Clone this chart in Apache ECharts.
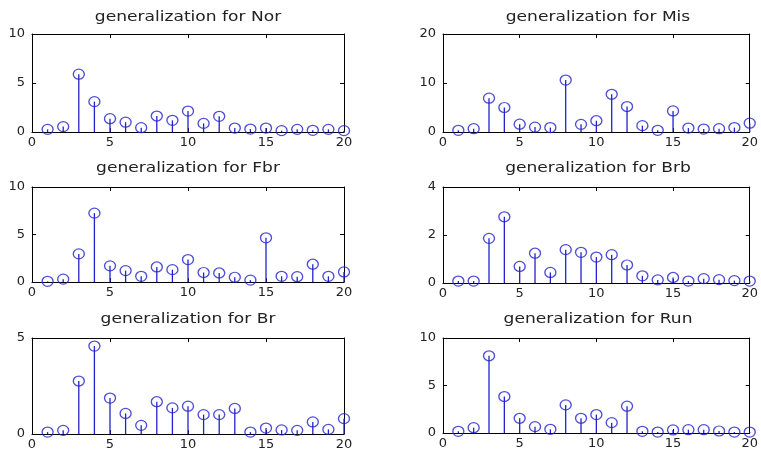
<!DOCTYPE html>
<html><head><meta charset="utf-8">
<script src="https://cdn.jsdelivr.net/npm/echarts@6/dist/echarts.min.js"></script>
<style>html,body{margin:0;padding:0;background:#fff}#c{width:761px;height:453px}</style>
</head><body><div id="c"></div>
<script>
const xValues = [1,2,3,4,5,6,7,8,9,10,11,12,13,14,15,16,17,18,19,20];
const norValues = [0.27,0.55,5.9,3.1,1.36,1.0,0.44,1.63,1.19,2.14,0.88,1.6,0.4,0.3,0.4,0.14,0.27,0.17,0.27,0.14];
const misValues = [0.34,0.68,6.9,5.0,1.6,1.0,0.9,10.6,1.56,2.3,7.7,5.2,1.3,0.34,4.3,0.8,0.6,0.68,0.9,1.8];
const fbrValues = [0.07,0.3,2.96,7.25,1.7,1.2,0.6,1.58,1.3,2.36,1.0,0.95,0.5,0.2,4.65,0.6,0.56,1.87,0.6,1.06];
const brbValues = [0.08,0.08,1.86,2.76,0.69,1.24,0.44,1.39,1.28,1.08,1.18,0.75,0.3,0.13,0.23,0.08,0.18,0.14,0.1,0.08];
const brValues = [0.1,0.19,2.76,4.58,1.87,1.07,0.45,1.68,1.36,1.45,1.01,1.01,1.33,0.1,0.31,0.21,0.19,0.63,0.24,0.8];
const runValues = [0.18,0.56,8.13,3.84,1.55,0.67,0.39,2.96,1.55,1.94,1.09,2.82,0.18,0.1,0.32,0.35,0.35,0.21,0.1,0.1];
const panelTitles = ['generalization for Nor','generalization for Mis','generalization for Fbr','generalization for Brb','generalization for Br','generalization for Run'];
const panelValues = [norValues, misValues, fbrValues, brbValues, brValues, runValues];
const yMaxes = [10, 20, 10, 4, 5, 10];
const yIntervals = [5, 10, 5, 2, 5, 5];
const xTicks = [0, 20, 5];

const FONT = 'DejaVu Sans';
const BLUE = '#2222cc';
const grids = [
  {left:32, top:34, width:312, height:98},
  {left:443, top:34, width:310, height:98},
  {left:32, top:187, width:312, height:95},
  {left:443, top:187, width:310, height:96},
  {left:32, top:338, width:312, height:96},
  {left:443, top:338, width:310, height:95}
];
const titleCenters = [17, 17, 168, 168, 319, 319];

const xAxis = [], yAxis = [], series = [], graphic = [];
grids.forEach((g, i) => {
  const line = {show:true, onZero:false, lineStyle:{color:'#000', width:1}};
  const tick = {show:true, inside:true, length:4, lineStyle:{color:'#000'}};
  const lbl = {show:true, color:'#222', fontFamily:FONT, fontSize:13};
  xAxis.push({type:'value', gridIndex:i, position:'bottom', min:xTicks[0], max:xTicks[1], interval:xTicks[2],
    axisLine:line, axisTick:tick, splitLine:{show:false}, axisLabel:Object.assign({margin:4}, lbl)});
  xAxis.push({type:'value', gridIndex:i, position:'top', min:xTicks[0], max:xTicks[1], interval:xTicks[2],
    axisLine:line, axisTick:tick, splitLine:{show:false}, axisLabel:{show:false}});
  yAxis.push({type:'value', gridIndex:i, position:'left', min:0, max:yMaxes[i], interval:yIntervals[i],
    axisLine:line, axisTick:tick, splitLine:{show:false}, axisLabel:Object.assign({margin:7}, lbl)});
  yAxis.push({type:'value', gridIndex:i, position:'right', min:0, max:yMaxes[i], interval:yIntervals[i],
    axisLine:line, axisTick:tick, splitLine:{show:false}, axisLabel:{show:false}});
  const data = xValues.map((x, k) => [x, panelValues[i][k]]);
  series.push({type:'custom', xAxisIndex:2*i, yAxisIndex:2*i, data:data, silent:true, clip:false,
    renderItem:(params, api) => {
      const p0 = api.coord([api.value(0), 0]);
      const p1 = api.coord([api.value(0), api.value(1)]);
      return {type:'line', shape:{x1:p0[0], y1:p0[1], x2:p1[0], y2:p1[1]}, style:{stroke:BLUE, lineWidth:1.3}};
    }});
  series.push({type:'scatter', xAxisIndex:2*i, yAxisIndex:2*i, data:data, symbol:'circle', symbolSize:[11,10],
    clip:false, silent:true, itemStyle:{color:'rgba(0,0,0,0)', borderColor:BLUE, borderWidth:1.3}});
  graphic.push({type:'text', x:g.left + g.width/2, y:titleCenters[i], scaleX:1.22, silent:true,
    style:{text:panelTitles[i], fontFamily:FONT, fontSize:14, fill:'#222', align:'center', verticalAlign:'middle'}});
});

const chart = echarts.init(document.getElementById('c'), null, {renderer:'canvas'});
chart.setOption({animation:false, backgroundColor:'#fff', graphic:graphic, grid:grids, xAxis:xAxis, yAxis:yAxis, series:series});
</script></body></html>
